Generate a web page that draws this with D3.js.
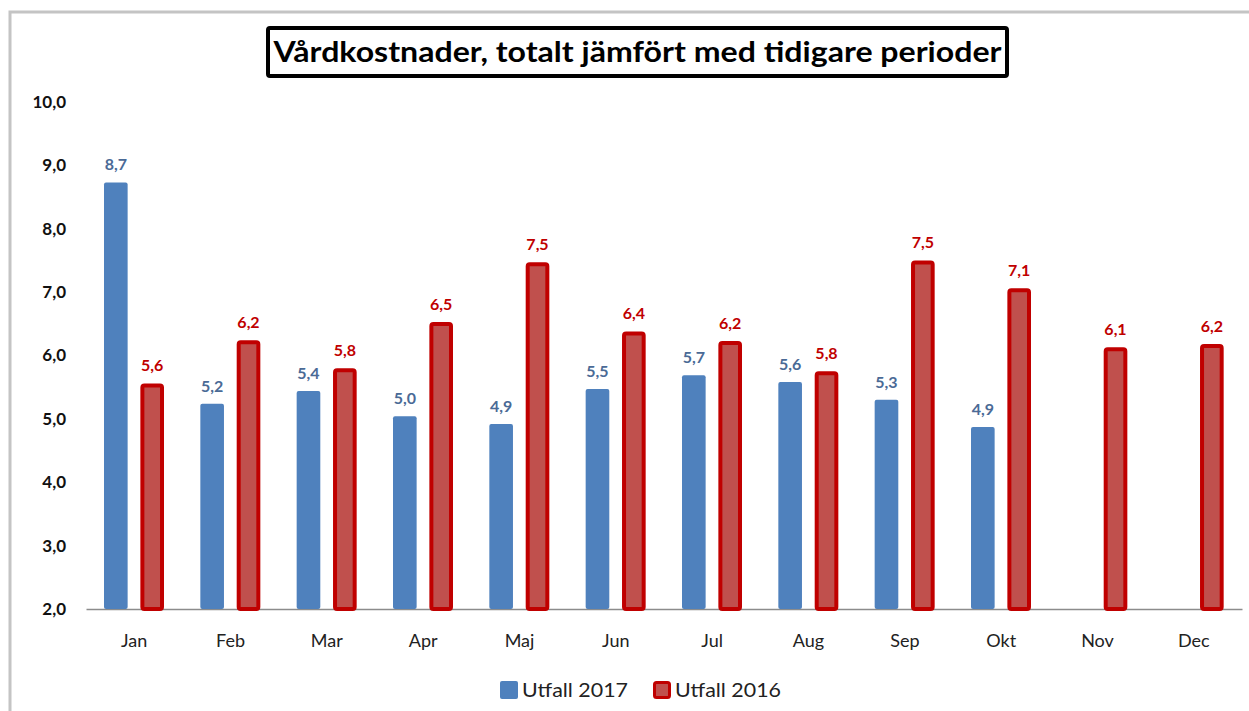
<!DOCTYPE html>
<html>
<head>
<meta charset="utf-8">
<script src="https://cdn.jsdelivr.net/npm/d3@7"></script>
<style>
  body { margin: 0; background: #fff; }
  svg { display: block; font-family: Lato, "Open Sans", sans-serif; }
</style>
</head>
<body>
<svg id="chart" width="1249" height="711"></svg>
<script>
const months = ["Jan", "Feb", "Mar", "Apr", "Maj", "Jun", "Jul", "Aug", "Sep", "Okt", "Nov", "Dec"];
const utfall2017 = [8.73, 5.24, 5.44, 5.04, 4.92, 5.47, 5.69, 5.58, 5.30, 4.87, null, null];
const utfall2016 = [5.56, 6.24, 5.80, 6.53, 7.47, 6.38, 6.23, 5.75, 7.50, 7.06, 6.13, 6.18];
const yTicks = [2, 3, 4, 5, 6, 7, 8, 9, 10];
const seriesNames = ["Utfall 2017", "Utfall 2016"];

const svg = d3.select("#chart");
const font = "Lato, 'Open Sans', sans-serif";

// outer frame
svg.append("path")
  .attr("d", "M10,711 V12 H1249")
  .attr("fill", "none")
  .attr("stroke", "#c4c4c4")
  .attr("stroke-width", 3);

const x0 = d3.scaleBand().domain(months).range([86, 1242]).paddingInner(0).paddingOuter(0);
const x1 = d3.scaleBand().domain(seriesNames).range([18, 78]).paddingInner(0.35);
const y = d3.scaleLinear().domain([2, 10]).range([609, 102]);

const fmt = v => d3.format(".1f")(v).replace(".", ",");

// y axis labels
const yAxis = d3.axisLeft(y).tickValues(yTicks).tickSize(0).tickPadding(0).tickFormat(fmt);
svg.append("g")
  .attr("transform", "translate(66,0)")
  .call(yAxis)
  .attr("font-family", font)
  .call(g => g.select(".domain").remove())
  .selectAll("text")
  .attr("font-size", 17)
  .attr("font-weight", "bold")
  .attr("fill", "#111");

// x axis
const xAxis = d3.axisBottom(x0).tickSize(0).tickPadding(25);
svg.append("g")
  .attr("transform", "translate(0,609)")
  .call(xAxis)
  .attr("font-family", font)
  .call(g => g.select(".domain").attr("stroke", "#8c8c8c").attr("stroke-width", 1.5))
  .selectAll("text")
  .attr("font-size", 18)
  .attr("fill", "#222");

const groups = svg.append("g").selectAll("g")
  .data(months)
  .join("g")
  .attr("transform", d => `translate(${x0(d)},0)`);

// blue bars
groups.filter((d, i) => utfall2017[i] != null)
  .append("rect")
  .attr("x", x1("Utfall 2017"))
  .attr("width", x1.bandwidth())
  .attr("y", d => y(utfall2017[months.indexOf(d)]))
  .attr("height", d => y(2) - y(utfall2017[months.indexOf(d)]))
  .attr("rx", 2)
  .attr("fill", "#4f81bd");

groups.filter((d, i) => utfall2017[i] != null)
  .append("text")
  .attr("x", x1("Utfall 2017") + x1.bandwidth() / 2)
  .attr("y", d => y(utfall2017[months.indexOf(d)]) - 12)
  .attr("text-anchor", "middle")
  .attr("font-size", 16)
  .attr("font-weight", "bold")
  .attr("fill", "#4a6a96")
  .text(d => fmt(utfall2017[months.indexOf(d)]));

// red bars
groups.append("rect")
  .attr("x", x1("Utfall 2016") + 2)
  .attr("width", x1.bandwidth() - 4)
  .attr("y", d => y(utfall2016[months.indexOf(d)]) + 2)
  .attr("height", d => y(2) - y(utfall2016[months.indexOf(d)]) - 2)
  .attr("rx", 2)
  .attr("fill", "#c0504d")
  .attr("stroke", "#c00000")
  .attr("stroke-width", 4);

groups.append("text")
  .attr("x", x1("Utfall 2016") + x1.bandwidth() / 2)
  .attr("y", d => y(utfall2016[months.indexOf(d)]) - 12)
  .attr("text-anchor", "middle")
  .attr("font-size", 16)
  .attr("font-weight", "bold")
  .attr("fill", "#c00000")
  .text(d => fmt(utfall2016[months.indexOf(d)]));

// title
svg.append("rect")
  .attr("x", 268).attr("y", 28)
  .attr("width", 739).attr("height", 48)
  .attr("fill", "#fff")
  .attr("stroke", "#000")
  .attr("stroke-width", 4)
  .attr("rx", 2);
svg.append("text")
  .attr("x", 637.5).attr("y", 62)
  .attr("text-anchor", "middle")
  .attr("font-size", 29)
  .attr("font-weight", "bold")
  .attr("textLength", 728)
  .attr("lengthAdjust", "spacingAndGlyphs")
  .attr("fill", "#000")
  .text("Vårdkostnader, totalt jämfört med tidigare perioder");

// legend
const legend = svg.append("g");
const legendX = [500, 653];
const legendColors = [["#4f81bd", "#4f81bd"], ["#c0504d", "#c00000"]];
seriesNames.forEach((name, i) => {
  legend.append("rect")
    .attr("x", legendX[i] + (i ? 1.5 : 0)).attr("y", 681 + (i ? 1.5 : 0))
    .attr("width", i ? 15 : 18).attr("height", i ? 15 : 18)
    .attr("rx", 2)
    .attr("fill", legendColors[i][0])
    .attr("stroke", i ? legendColors[i][1] : "none")
    .attr("stroke-width", 3);
  legend.append("text")
    .attr("x", legendX[i] + 22).attr("y", 697)
    .attr("font-size", 20)
    .attr("fill", "#222")
    .attr("textLength", 106)
    .attr("lengthAdjust", "spacingAndGlyphs")
    .text(name);
});
</script>
</body>
</html>
